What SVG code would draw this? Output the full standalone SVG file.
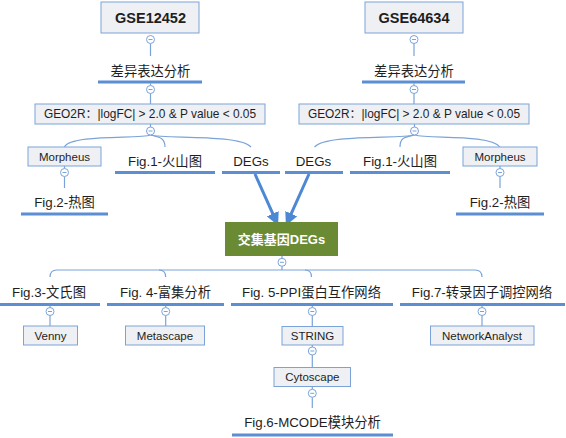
<svg xmlns="http://www.w3.org/2000/svg" width="566" height="438" viewBox="0 0 566 438">
<defs>
<style>
.bg{fill:#ffffff}
.box{fill:#eef0f4;stroke:#7ba3d9;stroke-width:1}
.green{fill:#6b8a34}
.t{font-family:"Liberation Sans","Noto Sans CJK SC",sans-serif;fill:#1e1e1e;text-anchor:middle}
.big{font-size:14.5px;font-weight:bold}
.lv{font-size:13.3px}
.sm{font-size:11.5px}
.geo{font-size:11.9px}
.wb{font-size:13px;font-weight:bold;fill:#ffffff}
.ul{stroke:#5b8ed3;stroke-width:3;fill:none}
.ln{stroke:#7ba3d9;stroke-width:1.2;fill:none}
.cc{fill:#ffffff;stroke:#7ba3d9;stroke-width:1}
.mn{stroke:#7ba3d9;stroke-width:1}
.arr{stroke:#4d88d4;stroke-width:3;fill:none}
</style>
<marker id="ah" viewBox="0 0 12 12" refX="3" refY="6" markerWidth="13" markerHeight="13" markerUnits="userSpaceOnUse" orient="auto">
<path d="M0,0 L12,6 L0,12 z" fill="#4d88d4"/>
</marker>
<g id="col">
<circle class="cc" cx="0" cy="0" r="4"/>
<line class="mn" x1="-2" y1="0" x2="2" y2="0"/>
</g>
</defs>
<rect class="bg" x="0" y="0" width="566" height="438"/>

<g id="connectors">
<line class="ln" x1="150.5" y1="43.5" x2="150.5" y2="56"/>
<line class="ln" x1="414" y1="43.5" x2="414" y2="56"/>
<line class="ln" x1="150.5" y1="83.5" x2="150.5" y2="85.5"/>
<line class="ln" x1="414" y1="83.5" x2="414" y2="85.5"/>
<line class="ln" x1="150.5" y1="93.5" x2="150.5" y2="104"/>
<line class="ln" x1="414" y1="93.5" x2="414" y2="104"/>
<line class="ln" x1="150.5" y1="124" x2="150.5" y2="127"/>
<line class="ln" x1="414.5" y1="124" x2="414.5" y2="127"/>
<path class="ln" d="M150.5,135 C140,139 70,134 64.5,147"/>
<path class="ln" d="M150.5,135 C158,137 165,137 165,147"/>
<path class="ln" d="M150.5,135 C165,139 240,134 251,147"/>
<path class="ln" d="M414.5,135 C400,139 325,134 314.5,147"/>
<path class="ln" d="M414.5,135 C406,137 400,137 400,147"/>
<path class="ln" d="M414.5,135 C430,139 490,134 500,147"/>
<line class="ln" x1="64.5" y1="166" x2="64.5" y2="168.5"/>
<line class="ln" x1="500" y1="166" x2="500" y2="168.5"/>
<line class="ln" x1="64.5" y1="176.5" x2="64.5" y2="188"/>
<line class="ln" x1="500" y1="176.5" x2="500" y2="188"/>
<line class="arr" x1="255" y1="174" x2="274.1" y2="216.6" marker-end="url(#ah)"/>
<line class="arr" x1="309" y1="174" x2="289.9" y2="216.6" marker-end="url(#ah)"/>
<line class="ln" x1="282" y1="256" x2="282" y2="258.3"/>
<line class="ln" x1="282" y1="266.3" x2="282" y2="270"/>
<path class="ln" d="M50,277 Q50,270 57,270 L475,270 Q482,270 482,277"/>
<path class="ln" d="M159,270 Q165.7,270 165.7,277"/>
<path class="ln" d="M305,270 Q311.5,270 311.5,277"/>
<line class="ln" x1="50" y1="306" x2="50" y2="307.5"/>
<line class="ln" x1="165.7" y1="306" x2="165.7" y2="307.5"/>
<line class="ln" x1="312.3" y1="306" x2="312.3" y2="307.5"/>
<line class="ln" x1="482" y1="306" x2="482" y2="307.5"/>
<line class="ln" x1="50" y1="315.5" x2="50" y2="326"/>
<line class="ln" x1="165.7" y1="315.5" x2="165.7" y2="326"/>
<line class="ln" x1="312.3" y1="315.5" x2="312.3" y2="326.5"/>
<line class="ln" x1="482" y1="315.5" x2="482" y2="326"/>
<line class="ln" x1="312.3" y1="345" x2="312.3" y2="347"/>
<line class="ln" x1="312.3" y1="355" x2="312.3" y2="367.5"/>
<line class="ln" x1="312.3" y1="386.5" x2="312.3" y2="389.3"/>
<line class="ln" x1="312.3" y1="397.3" x2="312.3" y2="408"/>
</g>

<g id="gse12452"><rect class="box" x="101" y="2" width="98" height="31"/><text class="t big" x="150.5" y="23">GSE12452</text><use href="#col" x="150.5" y="39.5"/></g>
<g id="gse64634"><rect class="box" x="365" y="2" width="98" height="31"/><text class="t big" x="414" y="23">GSE64634</text><use href="#col" x="414" y="39.5"/></g>

<g id="diff-left"><text class="t lv" x="150.5" y="76">差异表达分析</text><line class="ul" x1="98" y1="82" x2="202" y2="82"/><use href="#col" x="150.5" y="89.5"/></g>
<g id="diff-right"><text class="t lv" x="414" y="76">差异表达分析</text><line class="ul" x1="362" y1="82" x2="465" y2="82"/><use href="#col" x="414" y="89.5"/></g>

<g id="geo2r-left"><rect class="box" x="35" y="104" width="230" height="20"/><text class="t geo" x="150" y="118.2">GEO2R：|logFC| &gt; 2.0 &amp; P value &lt; 0.05</text><use href="#col" x="150.5" y="131"/></g>
<g id="geo2r-right"><rect class="box" x="299" y="104" width="230" height="20"/><text class="t geo" x="414" y="118.2">GEO2R：|logFC| &gt; 2.0 &amp; P value &lt; 0.05</text><use href="#col" x="414.5" y="131"/></g>

<g id="morpheus-left"><rect class="box" x="28" y="147" width="73" height="19"/><text class="t sm" x="64.5" y="160.5">Morpheus</text><use href="#col" x="64.5" y="172.5"/></g>
<g id="fig1-left"><text class="t lv" x="165" y="165.5">Fig.1-火山图</text><line class="ul" x1="115" y1="172.5" x2="215" y2="172.5"/></g>
<g id="degs-left"><text class="t lv" x="251" y="165.5">DEGs</text><line class="ul" x1="222" y1="172.5" x2="280" y2="172.5"/></g>
<g id="degs-right"><text class="t lv" x="313.5" y="165.5">DEGs</text><line class="ul" x1="285" y1="172.5" x2="343" y2="172.5"/></g>
<g id="fig1-right"><text class="t lv" x="400" y="165.5">Fig.1-火山图</text><line class="ul" x1="350" y1="172.5" x2="450" y2="172.5"/></g>
<g id="morpheus-right"><rect class="box" x="463" y="147" width="74" height="19"/><text class="t sm" x="500" y="160.5">Morpheus</text><use href="#col" x="500" y="172.5"/></g>

<g id="fig2-left"><text class="t lv" x="64.5" y="206.5">Fig.2-热图</text><line class="ul" x1="21" y1="214" x2="108" y2="214"/></g>
<g id="fig2-right"><text class="t lv" x="500" y="206.5">Fig.2-热图</text><line class="ul" x1="456" y1="214" x2="544" y2="214"/></g>

<g id="intersect"><rect class="green" x="225" y="222" width="113" height="34"/><text class="t wb" x="281.5" y="244">交集基因DEGs</text><use href="#col" x="282" y="262.3"/></g>

<g id="fig3"><text class="t lv" x="49" y="297">Fig.3-文氏图</text><line class="ul" x1="0" y1="304.5" x2="100" y2="304.5"/><use href="#col" x="50" y="311.5"/></g>
<g id="fig4"><text class="t lv" x="165.5" y="297">Fig. 4-富集分析</text><line class="ul" x1="107" y1="304.5" x2="224" y2="304.5"/><use href="#col" x="165.7" y="311.5"/></g>
<g id="fig5"><text class="t lv" x="311.5" y="297">Fig. 5-PPI蛋白互作网络</text><line class="ul" x1="231" y1="304.5" x2="393" y2="304.5"/><use href="#col" x="312.3" y="311.5"/></g>
<g id="fig7"><text class="t lv" x="482" y="297">Fig.7-转录因子调控网络</text><line class="ul" x1="400" y1="304.5" x2="565" y2="304.5"/><use href="#col" x="482" y="311.5"/></g>

<g id="venny"><rect class="box" x="23.5" y="326" width="54" height="19"/><text class="t sm" x="50.5" y="339.5">Venny</text></g>
<g id="metascape"><rect class="box" x="125.5" y="326" width="79" height="19"/><text class="t sm" x="165" y="339.5">Metascape</text></g>
<g id="string"><rect class="box" x="282" y="326.5" width="61" height="18.5"/><text class="t sm" x="312.5" y="339.8">STRING</text><use href="#col" x="312.3" y="351"/></g>
<g id="networkanalyst"><rect class="box" x="430.5" y="326" width="103.5" height="19"/><text class="t sm" x="482" y="339.5">NetworkAnalyst</text></g>
<g id="cytoscape"><rect class="box" x="274" y="367.5" width="76.5" height="19"/><text class="t sm" x="312.3" y="381">Cytoscape</text><use href="#col" x="312.3" y="393.3"/></g>
<g id="fig6"><text class="t lv" x="312.5" y="427">Fig.6-MCODE模块分析</text><line class="ul" x1="232" y1="435" x2="393" y2="435"/></g>
</svg>
